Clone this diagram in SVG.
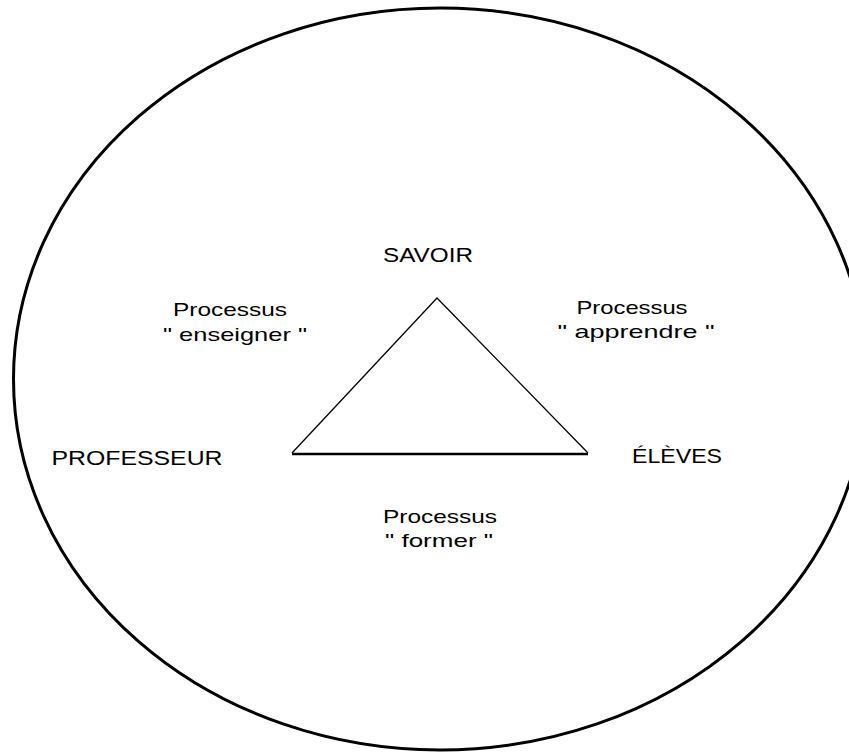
<svg xmlns="http://www.w3.org/2000/svg" width="849" height="755" viewBox="0 0 849 755">
<style>
.lbl{font-family:"Liberation Sans",Arial,sans-serif;font-size:19px;fill:#000;text-anchor:middle}
.big{font-size:21px}
.edge{stroke:#000;fill:none}
</style>
<rect width="849" height="755" fill="#fff"/>
<g id="boundary">
<ellipse cx="440" cy="379" rx="426.5" ry="371" fill="none" stroke="#000" stroke-width="3"/>
</g>
<g id="connectors">
<path class="edge" d="M292 453 L437 298 L588 453" stroke-width="1.3"/>
<path class="edge" d="M292 454 L588 454" stroke-width="2.5"/>
</g>
<g id="savoir"><text class="lbl big" x="428" y="262" textLength="90" lengthAdjust="spacingAndGlyphs">SAVOIR</text></g>
<g id="professeur"><text class="lbl big" x="137" y="465" textLength="171" lengthAdjust="spacingAndGlyphs">PROFESSEUR</text></g>
<g id="eleves"><text class="lbl big" x="677" y="463" textLength="90" lengthAdjust="spacingAndGlyphs">ÉLÈVES</text></g>
<g id="enseigner">
<text class="lbl" x="230" y="316" textLength="114" lengthAdjust="spacingAndGlyphs">Processus</text>
<text class="lbl" x="235" y="341" textLength="144" lengthAdjust="spacingAndGlyphs">" enseigner "</text>
</g>
<g id="apprendre">
<text class="lbl" x="632" y="314" textLength="111" lengthAdjust="spacingAndGlyphs">Processus</text>
<text class="lbl" x="636" y="338" textLength="157" lengthAdjust="spacingAndGlyphs">" apprendre "</text>
</g>
<g id="former">
<text class="lbl" x="440" y="523" textLength="114" lengthAdjust="spacingAndGlyphs">Processus</text>
<text class="lbl" x="439" y="547" textLength="108" lengthAdjust="spacingAndGlyphs">" former "</text>
</g>
</svg>
